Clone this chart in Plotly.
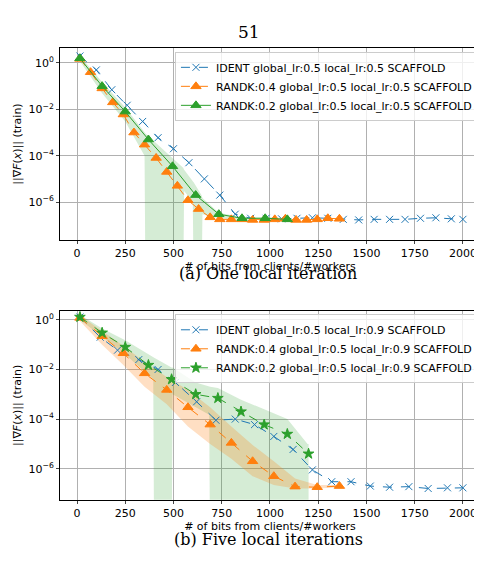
import plotly.graph_objects as go

BLUE, ORANGE, GREEN = "#1f77b4", "#ff7f0e", "#2ca02c"

# ---- panel (a): one local iteration ----
a_ident_x = [15, 100, 180, 260, 340, 420, 500, 580, 660, 740, 820, 900, 980, 1060, 1140, 1220, 1300,
             1380, 1460, 1540, 1620, 1700, 1780, 1860, 1940, 2000]
a_ident_y = [2.0, 0.5, 0.07, 0.015, 0.003, 6e-4, 2e-4, 5e-5, 1e-5, 2e-6, 3e-7, 2e-7, 2e-7, 1.9e-7, 2e-7,
             2.1e-7, 2e-7, 1.8e-7, 1.7e-7, 1.8e-7, 1.8e-7, 1.8e-7, 2e-7, 2.1e-7, 1.9e-7, 1.8e-7]
a_r4_x = [15, 70, 130, 185, 240, 295, 350, 410, 465, 520, 575, 630, 690, 740, 800, 855, 910, 970,
          1025, 1080, 1135, 1190, 1245, 1300, 1360]
a_r4_y = [1.5, 0.4, 0.08, 0.02, 0.006, 1e-3, 3e-4, 8e-5, 2e-5, 5e-6, 1.2e-6, 5e-7, 2.2e-7, 1.8e-7,
          1.8e-7, 1.8e-7, 1.7e-7, 1.7e-7, 1.8e-7, 1.9e-7, 1.7e-7, 1.7e-7, 1.8e-7, 2e-7, 1.9e-7]
a_r2_x = [15, 130, 250, 370, 495, 615, 735, 855, 975, 1090]
a_r2_y = [1.6, 0.1, 0.008, 5e-4, 3.5e-5, 2e-6, 3e-7, 2e-7, 2e-7, 1.8e-7]
a_r2_band_x = [15, 130, 250, 350, 355, 550, 555, 600, 605, 645, 650, 735, 855, 975, 1090]
a_r2_band_lo = [1.2, 0.05, 0.003, 1e-4, 1e-10, 1e-10, 3e-6, 1e-6, 1e-10, 1e-10, 3e-7, 2e-7, 1.7e-7, 1.7e-7, 1.6e-7]
a_r2_band_hi = [2.0, 0.15, 0.012, 1e-3, 9e-4, 3e-5, 2.5e-5, 8e-6, 7e-6, 2e-6, 1.5e-6, 3.5e-7, 2.2e-7, 2.2e-7, 2e-7]

# ---- panel (b): five local iterations ----
b_ident_x = [15, 120, 210, 320, 420, 510, 620, 720, 820, 920, 1020, 1120, 1220, 1320, 1420, 1520,
             1620, 1720, 1820, 1920, 2000]
b_ident_y = [1.3, 0.2, 0.06, 0.025, 0.01, 0.003, 5e-4, 9e-5, 1e-4, 6e-5, 2e-5, 6e-6, 9e-7, 3e-7, 3e-7,
             2e-7, 1.8e-7, 1.9e-7, 1.6e-7, 1.7e-7, 1.7e-7]
b_r4_x = [15, 130, 240, 350, 465, 575, 690, 800, 910, 1020, 1130, 1245, 1360]
b_r4_y = [1.2, 0.22, 0.045, 0.007, 1.5e-3, 3e-4, 6e-5, 1.1e-5, 2e-6, 5e-7, 1.9e-7, 1.8e-7, 2e-7]
b_r4_band_lo = [0.9, 0.1, 0.015, 0.002, 4e-4, 5e-5, 1e-5, 2.5e-6, 5e-7, 2.2e-7, 1.6e-7, 1.6e-7, 1.8e-7]
b_r4_band_hi = [1.5, 0.35, 0.09, 0.02, 5e-3, 1.5e-3, 3e-4, 5e-5, 9e-6, 2e-6, 4e-7, 2.2e-7, 2.2e-7]
b_r2_x = [15, 130, 250, 370, 490, 615, 730, 850, 970, 1090, 1200]
b_r2_y = [1.3, 0.3, 0.08, 0.015, 0.004, 1e-3, 7e-4, 2e-4, 6e-5, 2.5e-5, 4e-6]
b_r2_band_x = [15, 130, 250, 370, 395, 400, 490, 495, 615, 685, 690, 730, 850, 970, 1090, 1195, 1200]
b_r2_band_lo = [1.0, 0.2, 0.04, 0.006, 0.004, 1e-10, 1e-10, 1e-3, 3e-4, 1.5e-4, 1e-10, 1e-10, 1e-10, 1e-10, 1e-10, 1e-10, 1e-10]
b_r2_band_hi = [1.6, 0.45, 0.15, 0.04, 0.03, 0.03, 0.012, 0.012, 3e-3, 2e-3, 2e-3, 1.8e-3, 6e-4, 2.5e-4, 1e-4, 1e-5, 1e-5]

fig = go.Figure()


def band(x, lo, hi, color, xa, ya):
    fig.add_trace(go.Scatter(x=x, y=hi, mode="lines", line=dict(width=0), showlegend=False,
                             hoverinfo="skip", xaxis=xa, yaxis=ya))
    fig.add_trace(go.Scatter(x=x, y=lo, mode="lines", line=dict(width=0), fill="tonexty",
                             fillcolor=color, showlegend=False, hoverinfo="skip", xaxis=xa, yaxis=ya))


def line(x, y, name, color, dash, symbol, size, xa, ya, legend):
    fig.add_trace(go.Scatter(x=x, y=y, name=name, mode="lines+markers",
                             line=dict(color=color, width=1, dash=dash),
                             marker=dict(symbol=symbol, size=size, color=color,
                                         line=dict(color=color, width=1)),
                             xaxis=xa, yaxis=ya, legend=legend))


band(a_r2_band_x, a_r2_band_lo, a_r2_band_hi, "rgba(44,160,44,0.2)", "x", "y")
line(a_ident_x, a_ident_y, "IDENT global_lr:0.5 local_lr:0.5 SCAFFOLD", BLUE, "dash", "x-thin", 7, "x", "y", "legend")
line(a_r4_x, a_r4_y, "RANDK:0.4 global_lr:0.5 local_lr:0.5 SCAFFOLD", ORANGE, "dash", "triangle-up", 9, "x", "y", "legend")
line(a_r2_x, a_r2_y, "RANDK:0.2 global_lr:0.5 local_lr:0.5 SCAFFOLD", GREEN, "solid", "triangle-up", 9, "x", "y", "legend")

band(b_r2_band_x, b_r2_band_lo, b_r2_band_hi, "rgba(44,160,44,0.2)", "x2", "y2")
band(b_r4_x, b_r4_band_lo, b_r4_band_hi, "rgba(255,127,14,0.25)", "x2", "y2")
line(b_ident_x, b_ident_y, "IDENT global_lr:0.5 local_lr:0.9 SCAFFOLD", BLUE, "dash", "x-thin", 7, "x2", "y2", "legend2")
line(b_r4_x, b_r4_y, "RANDK:0.4 global_lr:0.5 local_lr:0.9 SCAFFOLD", ORANGE, "dash", "triangle-up", 9, "x2", "y2", "legend2")
line(b_r2_x, b_r2_y, "RANDK:0.2 global_lr:0.5 local_lr:0.9 SCAFFOLD", GREEN, "dash", "star", 8, "x2", "y2", "legend2")

xcommon = dict(range=[-88, 2088], tickvals=[0, 250, 500, 750, 1000, 1250, 1500, 1750, 2000],
               showgrid=True, gridcolor="#b0b0b0", showline=True, linecolor="black", mirror=True,
               ticks="outside", ticklen=3, zeroline=False, domain=[0.108, 0.979], automargin=False,
               tickfont=dict(size=11),
               title=dict(text="# of bits from clients/#workers", font=dict(size=11), standoff=0))
ycommon = dict(type="log", showgrid=True, gridcolor="#b0b0b0", showline=True, linecolor="black",
               mirror=True, ticks="outside", ticklen=3, zeroline=False, automargin=False,
               tickvals=[1, 1e-2, 1e-4, 1e-6], ticktext=["10<sup>0</sup>", "10<sup>−2</sup>", "10<sup>−4</sup>", "10<sup>−6</sup>"],
               title=dict(text="||∇<i>F</i>(<i>x</i>)|| (train)", font=dict(size=11), standoff=4))

legend_style = dict(x=0.975, xanchor="right", yanchor="top", bgcolor="rgba(255,255,255,0.8)",
                    bordercolor="#cccccc", borderwidth=1, font=dict(size=11), tracegroupgap=0,
                    traceorder="normal")

fig.update_layout(
    width=482, height=562, margin=dict(l=0, r=0, t=0, b=0),
    plot_bgcolor="white", paper_bgcolor="white",
    font=dict(family="DejaVu Sans", color="black", size=11),
    xaxis=dict(xcommon, anchor="y"),
    yaxis=dict(ycommon, range=[-7.64, 0.65], domain=[0.587, 0.929], anchor="x"),
    xaxis2=dict(xcommon, anchor="y2"),
    yaxis2=dict(ycommon, range=[-7.25, 0.36], domain=[0.125, 0.461], anchor="x2"),
    legend=dict(legend_style, y=0.922),
    legend2=dict(legend_style, y=0.455),
    annotations=[
        dict(text="51", x=0.5, y=1 - 12 / 562, xref="paper", yref="paper", showarrow=False,
             font=dict(family="DejaVu Serif", size=17)),
        dict(text="(a) One local iteration", x=0.54, y=1 - 265 / 562, xref="paper", yref="paper",
             showarrow=False, font=dict(family="DejaVu Serif", size=16)),
        dict(text="(b) Five local iterations", x=0.54, y=1 - 543 / 562, xref="paper", yref="paper",
             showarrow=False, font=dict(family="DejaVu Serif", size=16)),
    ],
)

fig.write_html("out.html")
